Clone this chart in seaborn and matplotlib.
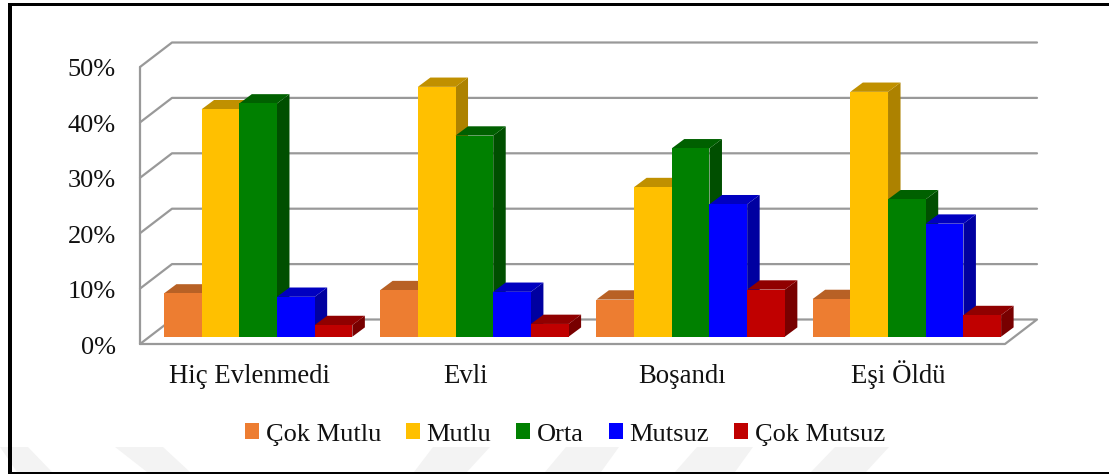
# %%
import pandas as pd
import matplotlib.pyplot as plt
from matplotlib.patches import Polygon, Rectangle
from matplotlib.transforms import ScaledTranslation
import seaborn as sns

categories = ["Hiç Evlenmedi", "Evli", "Boşandı", "Eşi Öldü"]
levels = ["Çok Mutlu", "Mutlu", "Orta", "Mutsuz", "Çok Mutsuz"]
cok_mutlu = [7.8, 8.4, 6.7, 6.8]
mutlu = [41.05, 45.1, 27.0, 44.2]
orta = [42.1, 36.3, 34.0, 24.8]
mutsuz = [7.2, 8.1, 23.9, 20.4]
cok_mutsuz = [2.1, 2.3, 8.5, 3.9]
yticks = [0, 10, 20, 30, 40, 50]

front_colors = ["#ED7D31", "#FFC000", "#008000", "#0000FF", "#C00000"]
top_colors = ["#B86125", "#C09000", "#006000", "#0000C0", "#900000"]
side_colors = ["#A85820", "#AD8200", "#004F00", "#0000A0", "#780000"]
grid_color = "#999999"

W, H = 1109, 474
# bar plane on screen, in pixels
x0, x1, y0, y50 = 150, 1015, 336.7, 59.7
PX_X = 4 / (x1 - x0)
PX_Y = 50 / (y0 - y50)

df = pd.DataFrame({
    "group": categories * 5,
    "level": [lv for lv in levels for _ in categories],
    "value": cok_mutlu + mutlu + orta + mutsuz + cok_mutsuz,
})

sns.set_theme(style="white")
plt.rcParams["font.family"] = ["Liberation Serif", "DejaVu Serif"]

fig = plt.figure(figsize=(W / 100, H / 100), dpi=100)

# faint watermark stripes along the bottom of the scan
stripes = [
    [(0, 447), (28, 447), (52, 472), (17, 472)],
    [(115, 447), (163, 447), (190, 472), (147, 472)],
    [(433, 447), (490, 447), (467, 472), (414, 472)],
    [(566, 447), (619, 447), (601, 472), (545, 472)],
    [(697, 447), (753, 447), (735, 472), (675, 472)],
    [(835, 447), (889, 447), (866, 472), (811, 472)],
]
for pts in stripes:
    fig.add_artist(Polygon([(px / W, 1 - py / H) for px, py in pts], closed=True,
                           transform=fig.transFigure, fc="#F3F3F3", ec="none", zorder=-5))

ax = fig.add_axes([x0 / W, 1 - y0 / H, (x1 - x0) / W, (y0 - y50) / H])
ax.patch.set_alpha(0)
sns.barplot(data=df, x="group", y="value", hue="level", order=categories,
            hue_order=levels, palette=front_colors, width=0.8715, gap=0,
            saturation=1, ax=ax, linewidth=0)
ax.set_xlim(-0.5, 3.5)
ax.set_ylim(0, 50)
ax.set(xlabel=None, ylabel=None)
sns.despine(ax=ax, left=True, bottom=True)


def shift(x, y, dx, dy):
    # move a data point by a screen offset in pixels (depth of the fake 3D)
    return x + dx * PX_X, y + dy * PX_Y


# walls and floor
front = (-10, -7.3)
back = (22, 17.2)
for val in yticks:
    a = shift(-0.5, val, *front)
    b = shift(-0.5, val, *back)
    c = shift(3.5, val, *back)
    if val == 0:
        d = shift(3.5, 0, *front)
        ax.plot([a[0], b[0]], [a[1], b[1]], color=grid_color, lw=1.6, zorder=0, clip_on=False)
        ax.plot([b[0], c[0], d[0], a[0]], [b[1], c[1], d[1], a[1]], color=grid_color, lw=1.6,
                zorder=0, clip_on=False)
    else:
        ax.plot([a[0], b[0], c[0]], [a[1], b[1], c[1]], color=grid_color, lw=1.6, zorder=0, clip_on=False)
left_bot = shift(-0.5, 0, *front)
left_top = shift(-0.5, 50, *front)
ax.plot([left_bot[0], left_top[0]], [left_bot[1], left_top[1]], color=grid_color, lw=1.6,
        zorder=0, clip_on=False)

# sides and tops of the bars, left to right so the next bar covers the last
bars = []
for i, cont in enumerate(ax.containers):
    for bar in cont:
        bars.append((bar, i))
bars.sort(key=lambda b: b[0].get_x())

depth = (12.5, 9.3)
for n, (bar, i) in enumerate(bars):
    xa, xb = bar.get_x(), bar.get_x() + bar.get_width()
    top = bar.get_height()
    z = 2 + n
    side = [(xb, 0), (xb, top), shift(xb, top, *depth), shift(xb, 0, *depth)]
    cap = [(xa, top), (xb, top), shift(xb, top, *depth), shift(xa, top, *depth)]
    ax.add_patch(Polygon(side, closed=True, fc=side_colors[i], ec="none", zorder=z, clip_on=False))
    ax.add_patch(Polygon(cap, closed=True, fc=top_colors[i], ec="none", zorder=z, clip_on=False))
    bar.set_zorder(z + 0.5)

# tick labels
ax.set_yticks(yticks)
ax.set_yticklabels([f"{v}%" for v in yticks], fontsize=19, color="#111111")
ax.tick_params(axis="y", length=0, pad=34 * 0.72)
ax.tick_params(axis="x", length=0, pad=46 * 0.72, labelsize=19.3, labelcolor="#111111")
for lab in ax.get_yticklabels():
    lab.set_transform(lab.get_transform() + ScaledTranslation(0, -8.3 / 100, fig.dpi_scale_trans))
for lab in ax.get_xticklabels():
    lab.set_va("baseline")
    lab.set_transform(lab.get_transform() + ScaledTranslation(-8.5 / 100, 0, fig.dpi_scale_trans))

sns.move_legend(ax, "center", bbox_to_anchor=(565 / W, 1 - 434.5 / H),
                bbox_transform=fig.transFigure, ncol=5, frameon=False, title=None,
                fontsize=19, handlelength=0.53, handleheight=0.53, handletextpad=0.25,
                columnspacing=0.95, labelcolor="#111111")

# border of the page scan
for rect in [(8, 3, 4, 471), (8, 3, W - 8, 3), (8, 472, W - 8, 2)]:
    x, y, w, h = rect
    fig.add_artist(Rectangle((x / W, 1 - (y + h) / H), w / W, h / H, transform=fig.transFigure,
                             fc="black", ec="none"))

fig.savefig("out.png", dpi=100)
